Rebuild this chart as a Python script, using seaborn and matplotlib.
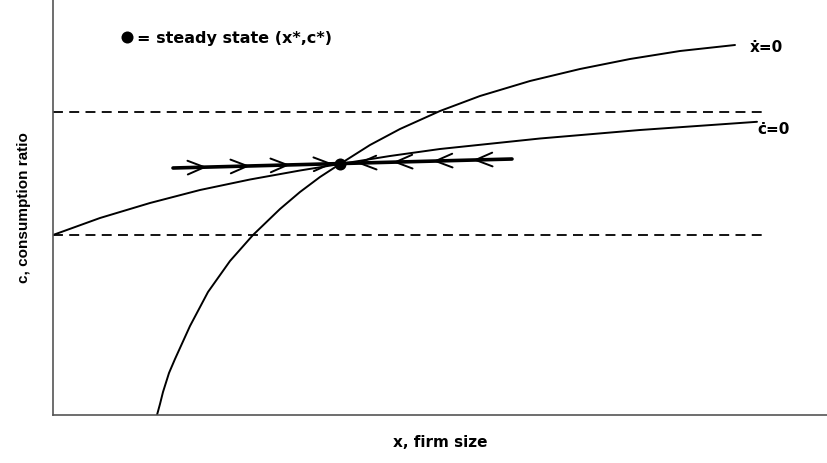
import matplotlib
matplotlib.use("Agg")
import matplotlib.pyplot as plt
import seaborn as sns
import numpy as np
import pandas as pd

# x-dot = 0 locus (firm size x, consumption ratio c)
xdot_x = [104, 107, 110, 116, 122, 137, 155, 177, 200, 227, 247, 267, 287,
          317, 347, 387, 427, 477, 527, 577, 627, 682]
xdot_c = [0, 11, 23, 42, 56, 89, 123, 154, 180, 206, 223, 238, 251,
          270, 286, 304, 319, 334, 346, 356, 364, 370]

# c-dot = 0 locus
cdot_x = [0, 47, 97, 147, 197, 247, 287, 337, 387, 487, 587, 704]
cdot_c = [180, 197, 212, 225, 235.5, 244.5, 251, 259, 266, 276.5, 285, 293.2]

# stable saddle path
saddle_x = [120, 459]
saddle_c = [247, 256]

# steady state (x*, c*)
steady_x, steady_c = 287, 251

# boundary levels of c (dashed)
c_levels = [303, 180]
level_x = [0, 709]

# arrowhead tips along the saddle path
right_tips = [154, 197, 237, 280]
left_tips = [304, 340, 380, 420]

sns.set_style("white")
plt.rcParams["font.family"] = ["DejaVu Sans"]
plt.rcParams["text.color"] = "black"
plt.rcParams["axes.labelcolor"] = "black"

fig = plt.figure(figsize=(8.27, 4.64), dpi=100)
ax = fig.add_axes([53 / 827, 48 / 464, 774 / 827, 416 / 464])
ax.set_xlim(0, 774)
ax.set_ylim(0, 416)

curve_df = pd.concat([
    pd.DataFrame({"x": xdot_x, "c": xdot_c, "locus": "xdot"}),
    pd.DataFrame({"x": cdot_x, "c": cdot_c, "locus": "cdot"}),
])
sns.lineplot(data=curve_df, x="x", y="c", units="locus", estimator=None,
             sort=False, color="black", lw=1.4, ax=ax)

for lvl in c_levels:
    sns.lineplot(x=level_x, y=[lvl, lvl], color="black", lw=1.3,
                 linestyle=(0, (5.5, 3.5)), ax=ax)

sns.lineplot(x=saddle_x, y=saddle_c, color="black", lw=2.6, ax=ax)

def on_saddle(x):
    return np.interp(x, saddle_x, saddle_c)

head = dict(arrowstyle="->,head_length=1.1,head_width=0.45", color="black",
            lw=1.4, shrinkA=0, shrinkB=0, mutation_scale=11)
for tx in right_tips:
    ax.annotate("", xy=(tx, on_saddle(tx)), xytext=(tx - 14, on_saddle(tx - 14)),
                arrowprops=head)
for tx in left_tips:
    ax.annotate("", xy=(tx, on_saddle(tx)), xytext=(tx + 14, on_saddle(tx + 14)),
                arrowprops=head)

sns.scatterplot(x=[steady_x], y=[steady_c], color="black", s=75,
                edgecolor="black", linewidth=0, ax=ax, zorder=5)

# legend marker and text
ax.scatter([74], [378], color="black", s=75, linewidth=0, clip_on=False)
ax.text(84, 378, "= steady state (x*,c*)", fontsize=11.5, fontweight="bold",
        va="center", ha="left")

ax.text(697, 369, "ẋ=0", fontsize=11, fontweight="bold", va="center", ha="left")
ax.text(704, 287, "ċ=0", fontsize=11, fontweight="bold", va="center", ha="left")

ax.set_xticks([])
ax.set_yticks([])
for side in ["top", "right"]:
    ax.spines[side].set_visible(False)
for side in ["left", "bottom"]:
    ax.spines[side].set_color("#555555")
    ax.spines[side].set_linewidth(1.2)

ax.set_xlabel("x, firm size", fontsize=11, fontweight="bold", labelpad=14)
ax.set_ylabel("c, consumption ratio", fontsize=11, fontweight="bold", labelpad=16,
              family=["Liberation Sans", "DejaVu Sans"])

fig.savefig("out.png", dpi=100)
